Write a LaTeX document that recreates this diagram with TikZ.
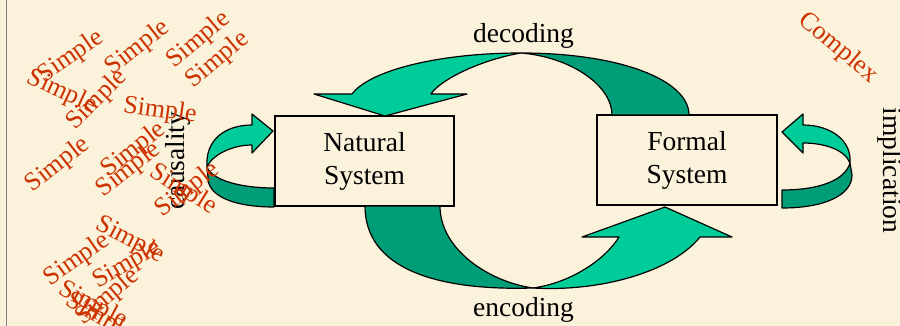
\documentclass[tikz,border=0pt]{standalone}
\usepackage{fontspec}
\setmainfont{Liberation Serif}
\usetikzlibrary{positioning}
\definecolor{paper}{RGB}{251,242,220}
\definecolor{tealfront}{RGB}{0,204,153}
\definecolor{tealback}{RGB}{0,158,120}
\definecolor{simplered}{RGB}{204,51,0}
\tikzset{
	system/.style={draw, fill=paper, line width=1.2pt, minimum width=179pt, minimum height=90pt, inner sep=0pt, align=center, font=\fontsize{27.5}{33}\selectfont},
	ribbonfront/.style={fill=tealfront, draw=black, line width=1.2pt, line join=round},
	ribbonback/.style={fill=tealback, draw=black, line width=1.2pt, line join=round},
	simpleword/.style={text=simplered, inner sep=0pt, font=\fontsize{26}{26}\selectfont},
	arclabel/.style={inner sep=0pt, font=\fontsize{27.5}{33}\selectfont}
}
\begin{document}
\begin{tikzpicture}[x=1pt, y=-1pt]
	\fill[paper] (0,0) rectangle (900,326);
	\useasboundingbox (0,0) rectangle (900,326);
	\draw[gray, line width=1pt] (6,0) -- (6,326);

	\node[system] (natural) at (364.5,161) {Natural\\System};
	\node[system, minimum width=180pt] (formal) at (687,160) {Formal\\System};

	\coordinate (dtop) at (521,53);
	\draw[ribbonback] (dtop) .. controls (620,53) and (689,80) .. (689,115) -- (612,115) .. controls (612,85) and (570,57) .. (dtop) -- cycle;
	\draw[ribbonfront] (dtop) .. controls (440,53) and (370,70) .. (352,94) -- (314,94) -- (385,116) -- (467,94) -- (431,94) .. controls (440,80) and (480,60) .. (dtop) -- cycle;

	\coordinate (ebot) at (533,288);
	\draw[ribbonback] (365,206) .. controls (365,268) and (435,291) .. (ebot) .. controls (490,282) and (440,250) .. (440,206) -- cycle;
	\draw[ribbonfront] (ebot) .. controls (600,292) and (672,272) .. (700,237) -- (732,237) -- (665,207) -- (582,237) -- (619,237) .. controls (605,260) and (570,283) .. (ebot) -- cycle;

	\coordinate (cfold) at (207,167);
	\draw[ribbonfront] (cfold) .. controls (205,140) and (225,125) .. (252,125) -- (252,114) -- (273,131) -- (252,153) -- (252,145) .. controls (232,145) and (212,155) .. (cfold) -- cycle;
	\draw[ribbonback] (cfold) .. controls (212,180) and (240,188) .. (274,188) -- (274,207) .. controls (232,207) and (207,195) .. (208,177) -- cycle;

	\coordinate (ifold) at (850,163);
	\draw[ribbonfront] (ifold) .. controls (852,140) and (830,125) .. (803,125) -- (803,114) -- (782,132) -- (803,153) -- (803,143) .. controls (825,143) and (845,150) .. (ifold) -- cycle;
	\draw[ribbonback] (ifold) .. controls (845,180) and (820,190) .. (782,190) -- (782,208) .. controls (825,208) and (852,195) .. (852,175) -- cycle;

	\node[arclabel, anchor=base] (decoding) at (523.5,43) {decoding};
	\node[arclabel, anchor=base] (encoding) at (523.5,316) {encoding};
	\node[arclabel, anchor=base, rotate=90] (causality) at (184,160.5) {causality};
	\node[arclabel, anchor=base, rotate=-90] (implication) at (883,170.5) {implication};

	\node[simpleword, rotate=35] (simple1) at (71,57) {Simple};
	\node[simpleword, rotate=38] (simple2) at (138,48) {Simple};
	\node[simpleword, rotate=40] (simple3) at (199,40) {Simple};
	\node[simpleword, rotate=40] (simple4) at (218,60) {Simple};
	\node[simpleword, rotate=-25] (simple5) at (62,92) {Simple};
	\node[simpleword, rotate=45] (simple6) at (97,100) {Simple};
	\node[simpleword, rotate=-8] (simple7) at (160,111) {Simple};
	\node[simpleword, rotate=38] (simple8) at (58,165) {Simple};
	\node[simpleword, rotate=38] (simple9) at (134,150) {Simple};
	\node[simpleword, rotate=38] (simple10) at (129,170) {Simple};
	\node[simpleword, rotate=-32] (simple11) at (183,190) {Simple};
	\node[simpleword, rotate=38] (simple12) at (188,190) {Simple};
	\node[simpleword, rotate=-28] (simple13) at (130,240) {Simple};
	\node[simpleword, rotate=35] (simple14) at (77,260) {Simple};
	\node[simpleword, rotate=30] (simple15) at (127,265) {Simple};
	\node[simpleword, rotate=40] (simple16) at (108,297) {Simple};
	\node[simpleword, rotate=-28] (simple17) at (93,305) {Simple};
	\node[simpleword, rotate=-30] (simple18) at (100,318) {Simple};
	\node[simpleword, rotate=-40] (complex) at (838,48) {Complex};
\end{tikzpicture}
\end{document}
